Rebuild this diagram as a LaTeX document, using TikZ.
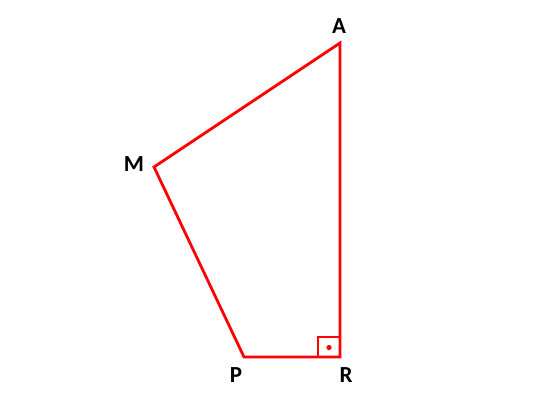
\documentclass[tikz,border=0pt]{standalone}
\usepackage{fontspec}
\setmainfont{Carlito}[BoldFont={Carlito Bold}]
\begin{document}
\begin{tikzpicture}[x=1pt,y=-1pt,
  edge/.style={draw=red, line width=2.8pt, line join=miter},
  lbl/.style={font=\bfseries\fontsize{23}{25}\selectfont, inner sep=0pt}]
\useasboundingbox (0,0) rectangle (540,405);
\coordinate (A) at (340,43);
\coordinate (M) at (154,167);
\coordinate (P) at (244,357);
\coordinate (R) at (340,357);
\draw[edge] (A) -- (M) -- (P) -- (R) -- cycle;
\draw[draw=red, line width=2.4pt] (318,357) -- (318,337) -- (340,337);
\fill[red] (329,347.5) circle (2.6);
\node[lbl] (la) at (339,26) {A};
\node[lbl] (lm) at (134,164.5) {M};
\node[lbl] (lp) at (236,375) {P};
\node[lbl] (lr) at (346,375) {R};
\end{tikzpicture}
\end{document}
